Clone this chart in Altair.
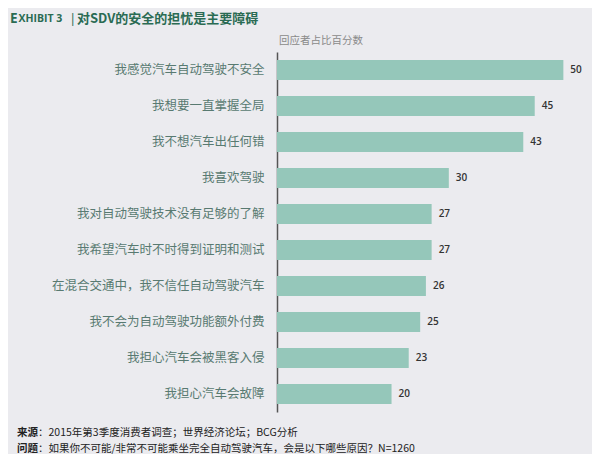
import altair as alt
import pandas as pd

categories = [
    "我感觉汽车自动驾驶不安全",
    "我想要一直掌握全局",
    "我不想汽车出任何错",
    "我喜欢驾驶",
    "我对自动驾驶技术没有足够的了解",
    "我希望汽车时不时得到证明和测试",
    "在混合交通中，我不信任自动驾驶汽车",
    "我不会为自动驾驶功能额外付费",
    "我担心汽车会被黑客入侵",
    "我担心汽车会故障",
]
values = [50, 45, 43, 30, 27, 27, 26, 25, 23, 20]

df = pd.DataFrame({"cat": categories, "val": values})

FONT = "Noto Sans CJK SC"
BG = "#ebebef"
BAR = "#95c7ba"
GREEN = "#2a6b53"

y_enc = alt.Y(
    "cat:N",
    sort=categories,
    title=None,
    scale=alt.Scale(paddingInner=0.444, paddingOuter=0.222),
    axis=alt.Axis(
        labelFont=FONT,
        labelFontSize=12.5,
        labelColor="#587a71",
        labelPadding=13,
        ticks=False,
        domainColor="#555555",
        domainWidth=1.5,
        labelLimit=300,
    ),
)
x_enc = alt.X("val:Q", scale=alt.Scale(domain=[0, 55]), axis=None)

bars = alt.Chart(df).mark_bar(color=BAR).encode(x=x_enc, y=y_enc)
labels = alt.Chart(df).mark_text(
    align="left", baseline="middle", dx=7, font="Open Sans", fontSize=10,
    fontWeight=600, color="#333333"
).encode(x=x_enc, y=y_enc, text="val:Q")


def txt(s, x, y, size, color, weight="normal", font=FONT):
    return alt.Chart(pd.DataFrame({"t": [s]})).mark_text(
        align="left", baseline="middle", font=font, fontSize=size,
        fontWeight=weight, color=color
    ).encode(x=alt.value(x), y=alt.value(y), text="t:N")


ox, oy = 277, 52  # plot origin on page
title_parts = [
    txt("E", 10 - ox, 18.5 - oy, 13.5, GREEN, "bold", "Open Sans"),
    txt("XHIBIT 3", 18.5 - ox, 19 - oy, 10.5, GREEN, "bold", "Open Sans"),
    txt("|", 69 - ox, 18.5 - oy, 13.5, GREEN, "normal", "Open Sans"),
    txt("对SDV的安全的担忧是主要障碍", 77 - ox, 18.5 - oy, 13, GREEN, "bold"),
    txt("回应者占比百分数", 279 - ox, 41 - oy, 10.5, "#8a8a8a"),
    txt("来源", 17 - ox, 433 - oy, 10.5, "#222222", "bold"),
    txt("：2015年第3季度消费者调查；世界经济论坛；BCG分析", 38 - ox, 433 - oy, 10.5, "#222222"),
    txt("问题", 17 - ox, 449 - oy, 10.5, "#222222", "bold"),
    txt("：如果你不可能/非常不可能乘坐完全自动驾驶汽车，会是以下哪些原因？N=1260", 38 - ox, 449 - oy, 10.5, "#222222"),
]

chart = alt.layer(bars, labels, *title_parts).properties(
    width=315,
    height=360,
    autosize=alt.AutoSizeParams(type="none"),
    padding={"left": 269, "top": 44, "right": 0, "bottom": 42},
    background=BG,
).configure_view(stroke=None)

chart.save("out.html", embed_options={"renderer": "svg", "actions": False})
